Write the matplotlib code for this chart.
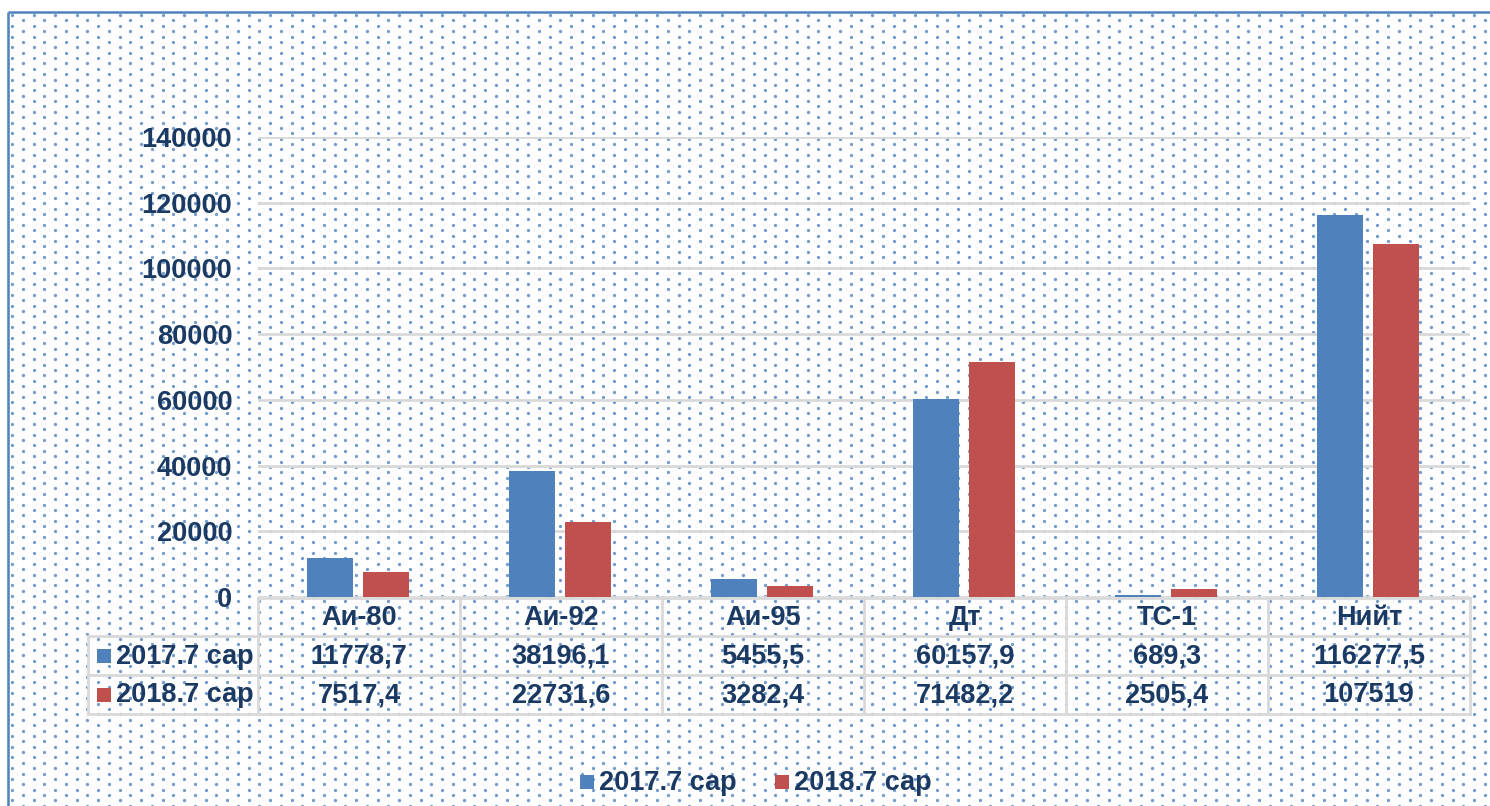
import matplotlib
matplotlib.use("Agg")
import matplotlib.pyplot as plt
import numpy as np

categories = ["Аи-80", "Аи-92", "Аи-95", "Дт", "ТС-1", "Нийт"]
series_names = ["2017.7 сар", "2018.7 сар"]
values_2017 = [11778.7, 38196.1, 5455.5, 60157.9, 689.3, 116277.5]
values_2018 = [7517.4, 22731.6, 3282.4, 71482.2, 2505.4, 107519]
labels_2017 = ["11778,7", "38196,1", "5455,5", "60157,9", "689,3", "116277,5"]
labels_2018 = ["7517,4", "22731,6", "3282,4", "71482,2", "2505,4", "107519"]
yticks = [0, 20000, 40000, 60000, 80000, 100000, 120000, 140000]

BLUE = "#4F81BD"
RED = "#C0504D"
TXT = "#1B3A63"
GRID = "#D9D9D9"
FS = 19.5

plt.rcParams['font.family'] = ['Liberation Sans', 'DejaVu Sans']
plt.rcParams['font.weight'] = 'bold'

W, H = 1490, 806
fig = plt.figure(figsize=(W / 100, H / 100), dpi=100)

def fx(px):
    return px / W

def fy(py):
    return 1 - py / H

# background dotted pattern
bg = fig.add_axes([0, 0, 1, 1], zorder=0)
bg.set_xlim(0, W)
bg.set_ylim(H, 0)
bg.axis('off')
dx, dy = 21.5, 5.38
xs, ys = [], []
row = 0
y = 15.0
while y < H + 5:
    off = 0 if row % 2 == 0 else dx / 2
    x = 12.0 + off
    while x < W + 5:
        if x > 9 and y > 13:
            xs.append(x)
            ys.append(y)
        x += dx
    y += dy
    row += 1
bg.scatter(xs, ys, s=5.5, color=BLUE, alpha=0.8, linewidths=0)
# frame (top and left edges)
bg.plot([8, W + 5], [12, 12], color=BLUE, lw=1.8, solid_capstyle='butt')
bg.plot([8, 8], [12, H + 5], color=BLUE, lw=1.8, solid_capstyle='butt')

# main chart axes
L, R, T, B = 258, 1470, 137, 597
ax = fig.add_axes([fx(L), fy(B), fx(R - L), (B - T) / H], zorder=2)
ax.patch.set_alpha(0)
n = len(categories)
x = np.arange(n)
bw = 0.228
ax.bar(x - 0.142, values_2017, width=bw, color=BLUE, zorder=3)
ax.bar(x + 0.135, values_2018, width=bw, color=RED, zorder=3)
ax.set_xlim(-0.5, n - 0.5)
ax.set_ylim(0, 140000)
ax.set_yticks(yticks)
ax.set_yticklabels([str(v) for v in yticks], fontsize=FS, fontweight='bold', color=TXT)
ax.tick_params(axis='y', length=0, pad=18.5)
ax.set_xticks([])
for s in ax.spines.values():
    s.set_visible(False)
ax.yaxis.grid(True, color=GRID, lw=2)
ax.set_axisbelow(True)

# data table below
tb = fig.add_axes([0, 0, 1, 1], zorder=3)
tb.set_xlim(0, W)
tb.set_ylim(H, 0)
tb.axis('off')
col_w = (R - L) / n
rows_y = [598, 636, 675, 714]
lx = 88
tb.plot([L, R], [rows_y[0], rows_y[0]], color=GRID, lw=2)
for yy in rows_y[1:]:
    tb.plot([lx, R], [yy, yy], color=GRID, lw=2)
for i in range(n + 1):
    xx = L + i * col_w
    tb.plot([xx, xx], [rows_y[0], rows_y[-1]], color=GRID, lw=2)
tb.plot([lx, lx], [rows_y[1], rows_y[-1]], color=GRID, lw=2)

for i, c in enumerate(categories):
    cx = L + (i + 0.5) * col_w
    tb.text(cx, (rows_y[0] + rows_y[1]) / 2 + 1, c, ha='center', va='center',
            fontsize=FS, fontweight='bold', color=TXT)
    tb.text(cx, (rows_y[1] + rows_y[2]) / 2 + 1, labels_2017[i], ha='center', va='center',
            fontsize=FS, fontweight='bold', color=TXT)
    tb.text(cx, (rows_y[2] + rows_y[3]) / 2 + 1, labels_2018[i], ha='center', va='center',
            fontsize=FS, fontweight='bold', color=TXT)

for j, (name, col) in enumerate(zip(series_names, [BLUE, RED])):
    cy = (rows_y[j + 1] + rows_y[j + 2]) / 2
    tb.add_patch(plt.Rectangle((97, cy - 7), 14, 14, color=col, lw=0))
    tb.text(116, cy + 1, name, ha='left', va='center', fontsize=FS,
            fontweight='bold', color=TXT)

# bottom legend
leg_y = 782
for name, col, kx in zip(series_names, [BLUE, RED], [580, 775]):
    tb.add_patch(plt.Rectangle((kx, leg_y - 7), 14, 14, color=col, lw=0))
    tb.text(kx + 19, leg_y + 1, name, ha='left', va='center', fontsize=FS,
            fontweight='bold', color=TXT)

fig.savefig("out.png", dpi=100)
